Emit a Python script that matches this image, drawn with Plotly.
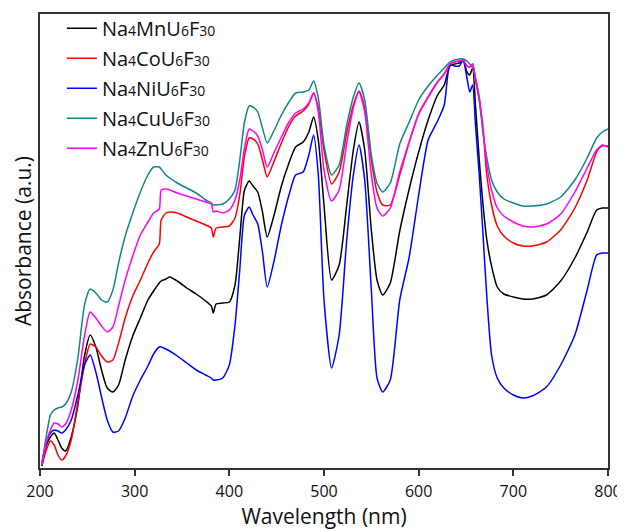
import plotly.graph_objects as go

wavelength = [202, 206, 211, 215, 219, 223, 227, 233, 240, 247,
              253, 259, 265, 271, 277, 283, 290, 298, 306, 314,
              320, 326, 328, 333, 337, 345, 355, 365, 375, 381,
              383, 386, 393, 400, 406, 411, 416, 421, 425, 430,
              435, 440, 447, 455, 463, 470, 478, 484, 489, 494,
              500, 508, 516, 524, 531, 537, 543, 550, 556, 562,
              570, 580, 590, 600, 610, 620, 627, 633, 638, 643,
              647, 651, 654, 657, 660, 664, 668, 672, 677, 683,
              690, 700, 710, 720, 735, 750, 765, 778, 788, 794, 800]

mn = [6, 21, 31, 35, 28, 20, 17, 31, 63, 112,
      133, 121, 98, 80, 76, 83, 108, 132, 150, 168,
      177, 185, 187, 189, 191, 187, 180, 174, 167, 162,
      155, 164, 165, 166, 183, 230, 278, 287, 282, 276,
      256, 231, 252, 282, 305, 321, 326, 336, 351, 328,
      263, 188, 203, 263, 318, 346, 318, 238, 188, 173,
      185, 237, 279, 316, 348, 373, 383, 402, 404, 405,
      408, 396, 393, 400, 363, 308, 263, 228, 202, 181,
      174, 171, 169, 169, 173, 187, 210, 236, 258, 260, 260]

co = [2, 16, 27, 23, 13, 8, 12, 28, 66, 103,
      124, 121, 112, 106, 108, 125, 150, 172, 188, 205,
      216, 224, 248, 255, 256, 255, 251, 247, 243, 240,
      231, 240, 241, 242, 250, 273, 312, 330, 329, 324,
      308, 291, 306, 325, 342, 352, 357, 364, 375, 360,
      318, 284, 296, 335, 363, 377, 360, 308, 276, 263,
      263, 293, 326, 354, 371, 386, 394, 404, 406, 407,
      408, 402, 401, 404, 388, 368, 338, 293, 263, 242,
      232, 225, 222, 222, 226, 238, 260, 288, 316, 323, 321]

ni = [2, 23, 35, 38, 37, 35, 38, 48, 73, 103,
      113, 96, 71, 48, 36, 37, 50, 72, 88, 102,
      114, 121, 121, 119, 117, 112, 105, 98, 93, 90,
      88, 88, 90, 103, 143, 198, 253, 261, 253, 244,
      216, 181, 206, 243, 273, 293, 296, 313, 333, 293,
      168, 100, 133, 228, 293, 323, 288, 178, 90, 76,
      88, 168, 211, 273, 328, 347, 363, 403, 402, 402,
      408, 390, 376, 383, 343, 293, 233, 171, 113, 90,
      80, 73, 70, 72, 81, 103, 133, 178, 213, 215, 215]

cu = [3, 28, 53, 58, 60, 61, 64, 76, 110, 163,
      179, 175, 168, 166, 178, 205, 232, 255, 276, 293,
      301, 301, 299, 293, 290, 285, 280, 275, 268, 265,
      263, 263, 264, 269, 278, 308, 346, 362, 361, 356,
      340, 325, 337, 353, 366, 375, 376, 378, 387, 370,
      323, 293, 303, 343, 371, 385, 368, 313, 285, 276,
      285, 324, 346, 368, 382, 393, 400, 406, 408, 409,
      409, 407, 404, 400, 390, 368, 335, 310, 288, 276,
      269, 265, 262, 262, 264, 271, 288, 310, 330, 336, 339]

zn = [4, 23, 38, 45, 44, 41, 44, 58, 88, 132,
      156, 150, 142, 136, 141, 162, 188, 212, 233, 246,
      255, 259, 278, 279, 278, 275, 272, 269, 266, 264,
      256, 257, 255, 258, 268, 288, 320, 339, 337, 332,
      318, 301, 315, 331, 346, 355, 359, 365, 375, 356,
      298, 267, 278, 325, 360, 376, 356, 293, 260, 252,
      260, 296, 326, 354, 371, 386, 394, 404, 406, 407,
      408, 402, 401, 404, 390, 371, 340, 303, 278, 260,
      252, 246, 242, 241, 244, 254, 276, 300, 318, 322, 322]

xticks = [200, 300, 400, 500, 600, 700, 800]

def label(metal):
    s = "<span style='font-size:14px'>%s</span>"
    return "Na" + s % "4" + metal + "U" + s % "6" + "F" + s % "30"

series = [
    ("Mn", mn, "#000000"),
    ("Co", co, "#ff0000"),
    ("Ni", ni, "#0000ff"),
    ("Cu", cu, "#138585"),
    ("Zn", zn, "#ff00ff"),
]

fig = go.Figure()
for i, (metal, vals, color) in enumerate(series):
    fig.add_trace(go.Scatter(
        x=wavelength, y=vals, mode="lines", name=label(metal),
        legendgroup="g%d" % i,
        line=dict(color=color, width=1.5, shape="spline", smoothing=0.6),
    ))

font_family = "Open Sans"
fig.update_layout(
    width=617, height=522,
    margin=dict(l=32, r=17, t=6, b=62, autoexpand=False),
    paper_bgcolor="white", plot_bgcolor="white",
    font=dict(family=font_family, color="#111111"),
    showlegend=True,
    legend=dict(x=0.0386, y=1.0116, xanchor="left", yanchor="top",
                bgcolor="rgba(0,0,0,0)", font=dict(size=20, family=font_family),
                tracegroupgap=1, itemwidth=30),
    xaxis=dict(range=[200, 800], tickvals=xticks, ticks="outside", ticklen=6,
               tickwidth=1.5, tickcolor="#333333", showline=True, linecolor="#333333",
               linewidth=1.8, mirror=True, showgrid=False, zeroline=False,
               tickfont=dict(size=16), automargin=False, ticklabelstandoff=2,
               title=dict(text="Wavelength (nm)", font=dict(size=21), standoff=3)),
    yaxis=dict(range=[0, 454], showticklabels=False, ticks="", showline=True,
               linecolor="#333333", linewidth=1.8, mirror=True, showgrid=False,
               zeroline=False, automargin=False,
               title=dict(text="Absorbance (a.u.)", font=dict(size=21), standoff=1)),
)

fig.write_html("out.html")
